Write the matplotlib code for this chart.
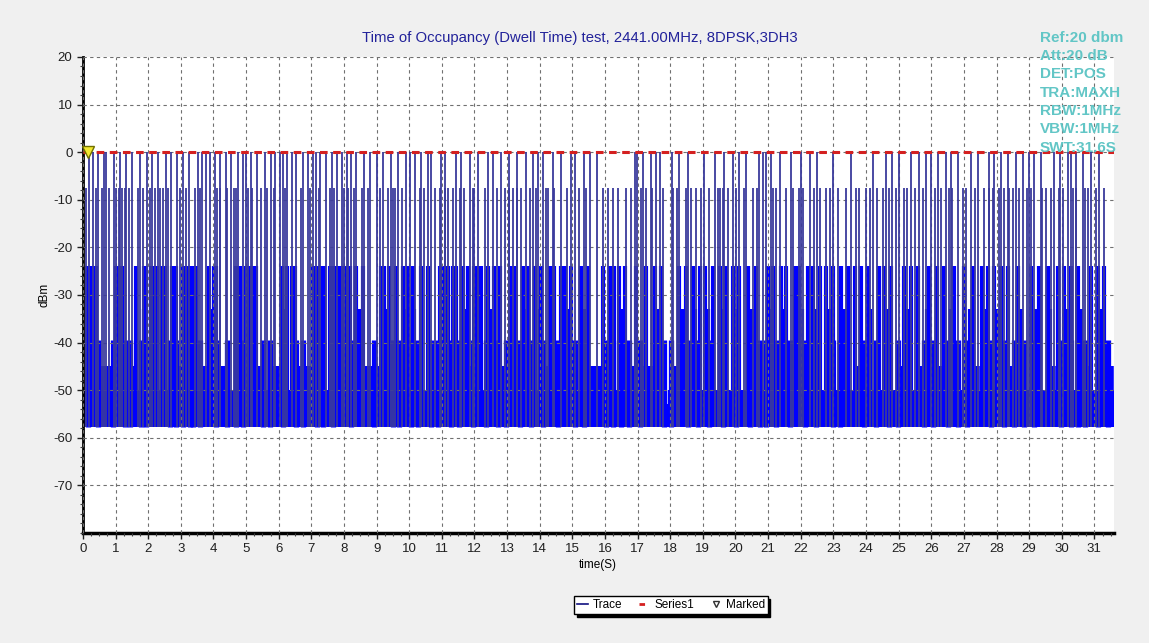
import matplotlib.pyplot as plt
from matplotlib.lines import Line2D
from matplotlib.ticker import MultipleLocator

plt.rcParams['font.family'] = ['Liberation Sans', 'DejaVu Sans']
plt.rcParams['axes.unicode_minus'] = False

# pulses that reach the reference line (about 0 dBm)
top_t = [0.20, 0.31, 0.46, 0.63, 0.72, 0.95, 1.15, 1.33, 1.51, 1.76, 1.96, 2.12, 2.30, 2.54,
         2.71, 2.89, 3.07, 3.25, 3.53, 3.65, 3.78, 3.89, 4.04, 4.20, 4.38, 4.55, 4.75, 4.91,
         5.01, 5.15, 5.32, 5.57, 5.75, 5.90, 6.03, 6.13, 6.26, 6.40, 6.54, 6.75, 6.90, 7.06,
         7.14, 7.28, 7.45, 7.62, 7.79, 7.95, 8.08,
         8.22, 8.37, 8.61, 8.81, 9.01, 9.20, 9.45, 9.65, 9.90, 10.01, 10.18, 10.36, 10.59,
         10.67, 10.98, 11.10, 11.44, 11.60, 11.85, 12.10, 12.41, 12.56, 12.82, 13.05, 13.30,
         13.58, 13.80, 13.95, 14.10, 14.40, 14.66, 14.97, 15.07, 15.37, 15.53, 15.75,
         16.93, 16.98, 17.16, 17.41, 17.55, 17.70, 18.05, 18.28, 18.55, 19.05, 19.36, 19.65,
         19.92, 20.12, 20.33, 20.72, 20.84, 20.94, 21.10, 21.35, 21.70, 22.02, 22.27, 22.50,
         22.99, 23.55,
         24.20, 24.61, 24.81, 25.02, 25.38, 25.63, 25.84, 25.99, 26.20, 26.45, 26.62, 26.81,
         27.22, 27.42, 27.78, 27.93, 28.15, 28.35, 28.60, 28.80, 29.00, 29.16, 29.36, 29.77,
         29.95, 30.18, 30.28, 30.45, 30.65, 30.90, 31.15]

# pulses topping out near -7.5 dBm
mid_t = [0.08, 0.40, 0.59, 0.80, 1.02, 1.10, 1.21, 1.28, 1.40, 1.70, 1.84, 2.05, 2.22, 2.37,
         2.45, 2.62, 2.98, 3.15, 3.43, 3.58, 4.10, 4.19, 4.40, 4.62, 4.70, 5.06, 5.19, 5.45,
         5.65, 5.86, 6.20, 6.68, 6.95, 7.22, 7.57, 7.70,
         7.99, 8.11, 8.32, 8.54, 8.73, 9.10, 9.34, 9.50, 9.57, 9.77, 10.34, 10.45, 10.80, 10.93,
         11.10, 11.18, 11.34, 11.55, 11.69, 11.95, 12.00, 12.31, 12.70, 12.94, 13.07, 13.18,
         13.30, 13.43, 13.69, 13.89, 14.20, 14.25, 14.45, 14.85, 15.20, 15.42,
         15.95, 16.10, 16.24, 16.39, 16.65, 16.80, 17.10, 17.26, 17.45, 17.79, 18.10, 18.20,
         18.49, 18.64, 18.80, 18.95, 19.20, 19.45, 19.53, 19.61, 19.77, 20.02, 20.25, 20.53,
         20.65, 21.15, 21.25, 21.56, 21.76, 21.95, 22.07, 22.40, 22.58, 22.78, 22.90, 23.14,
         23.40, 23.70,
         23.79, 24.00, 24.13, 24.35, 24.51, 24.71, 24.92, 25.17, 25.27, 25.50, 25.75, 26.11,
         26.30, 26.55, 26.65, 26.96, 27.06, 27.35, 27.63, 27.78, 27.90, 28.09, 28.24, 28.39,
         28.50, 28.70, 28.95, 29.06, 29.40, 29.52, 29.67, 29.93, 30.05, 30.35, 30.44, 30.70,
         30.80, 31.05, 31.31]

# wider bursts near -24 dBm
low_t = [0.12, 0.22, 0.33, 0.39, 1.00, 1.10, 1.21, 1.62, 1.86, 1.92, 2.10, 2.17, 2.27, 2.43,
         2.51, 2.74, 2.84, 3.07, 3.19, 3.29, 3.39, 3.48, 3.87, 4.01, 4.09, 4.70, 4.81, 4.99,
         5.11, 5.21, 5.30, 6.11, 6.24, 6.42, 6.49, 7.06, 7.16, 7.28, 7.38, 7.57, 7.67, 7.77, 7.87,
         7.96, 8.06, 8.17, 8.37, 8.57, 9.14, 9.24, 9.39, 9.60, 9.80, 9.95, 10.11, 10.36, 10.57,
         10.93, 11.03, 11.18, 11.34, 11.44, 11.64, 11.80, 12.00, 12.10, 12.20, 12.41, 12.61,
         12.77, 13.12, 13.23, 13.48, 13.64, 13.84, 14.04, 14.30, 14.45, 14.66, 14.76, 14.97,
         15.27, 15.48,
         15.95, 16.14, 16.29, 16.44, 16.60, 16.95, 17.26, 17.52, 17.72, 18.28, 18.49, 18.69,
         18.90, 19.08, 19.31, 19.51, 19.72, 19.92, 20.12, 20.38, 20.64, 20.99, 21.15, 21.40,
         21.56, 21.81, 21.96, 22.22, 22.37, 22.58, 22.78, 22.99, 23.24, 23.45, 23.65,
         23.84, 24.05, 24.40, 24.56, 24.76, 25.17, 25.38, 25.58, 25.94, 26.19, 26.40, 26.71,
         27.01, 27.27, 27.57, 27.73, 27.93, 28.14, 28.34, 28.65, 29.06, 29.31, 29.57, 29.87,
         30.08, 30.28, 30.49, 30.90, 31.10, 31.31]

# bursts near -33 dBm
l33_t = [0.26, 1.05, 1.88, 2.20, 2.80, 3.33, 3.95, 4.75, 5.05, 5.25, 6.18, 6.45, 7.10, 7.33,
         7.72, 8.12, 8.45, 9.30, 9.85, 10.15, 10.98, 11.40, 11.70, 12.15, 12.50, 13.18, 13.55,
         14.00, 14.38, 14.85, 15.40, 16.20, 16.55, 17.65, 18.38, 18.75, 19.15, 19.60, 19.98,
         20.50, 21.05, 21.48, 22.05, 22.45, 22.90, 23.35, 24.12, 24.65, 25.25, 25.88, 26.60,
         27.20, 27.65, 28.05, 28.75, 29.20, 29.65, 30.15, 30.58, 31.20]

# bursts near -40 dBm
l40_t = [0.15, 0.46, 0.92, 1.28, 1.43, 1.79, 1.94, 2.66, 2.86, 3.07, 3.27, 3.37, 3.58, 4.09,
         4.40, 4.70, 4.91, 5.52, 5.73, 6.13, 6.54, 6.75, 7.16, 7.36, 7.67,
         8.22, 8.93, 9.49, 9.70, 10.06, 10.26, 10.67, 10.88, 11.28, 11.54, 11.95, 12.36, 12.72,
         12.97, 13.38, 13.74, 14.10, 14.56, 15.07, 15.37,
         16.03, 16.24, 16.49, 16.75, 17.06, 17.82, 18.03, 18.54, 18.85, 19.20, 19.61, 20.02,
         20.43, 20.74, 20.94, 21.25, 21.66, 22.12, 22.48, 22.99, 23.19,
         23.94, 24.30, 24.71, 24.97, 25.79, 26.04, 26.50, 26.81, 27.11, 27.83, 28.24, 28.55,
         28.85, 29.16, 29.98, 30.28, 30.49, 30.70, 31.10, 31.41]

# bursts near -45 dBm
l45_t = [0.55, 0.70, 0.82, 1.52, 2.97, 3.68, 3.78, 4.20, 4.30, 5.40, 5.85, 5.97, 6.62, 6.88,
         6.97, 8.68, 8.80, 9.03, 10.31, 11.88, 12.87, 13.30, 14.20, 15.58, 15.70, 15.82, 16.85,
         17.15, 17.38, 18.15, 21.73, 23.74, 25.07, 25.68, 26.29, 27.40, 28.44, 29.72, 30.80,
         31.50]

top_level = 0.0
mid_level = -7.5
low_level = -24.0
l33_level = -33.0
l40_level = -39.5
l45_level = -45.0
base_level = -50.0
floor_lo, floor_hi = -57.8, -53.0
sweep_time = 31.6

info = ['Ref:20 dbm', 'Att:20 dB', 'DET:POS', 'TRA:MAXH', 'RBW:1MHz', 'VBW:1MHz', 'SWT:31.6S']

fig = plt.figure(figsize=(11.49, 6.43), dpi=100, facecolor='#f0f0f0')
ax = fig.add_axes([0.0722, 0.1711, 0.8973, 0.7403])
ax.set_facecolor('white')

blue = '#0000ff'
thin = '#3a3a9c'
all_t = top_t + mid_t + low_t + l33_t + l40_t + l45_t

ax.fill_between([0, sweep_time], floor_lo, floor_hi, color=blue, lw=0, zorder=2)
ax.vlines(all_t, floor_lo, base_level, color=blue, lw=4.5, zorder=2)
ax.vlines(l45_t, floor_lo, l45_level, color=blue, lw=4.0, zorder=2)
ax.vlines(l40_t, floor_lo, l40_level, color=blue, lw=3.8, zorder=2)
ax.vlines(l33_t, floor_lo, l33_level, color=blue, lw=3.0, zorder=2)
ax.vlines(low_t, floor_lo, low_level, color=blue, lw=3.0, zorder=2)
ax.vlines(mid_t, floor_lo, mid_level, color=thin, lw=1.3, zorder=3)
ax.vlines(top_t, floor_lo, top_level, color=thin, lw=1.3, zorder=3)

ax.plot([0, sweep_time], [0, 0], color='#d42020', lw=2.2, ls=(0, (2.5, 1.8)), zorder=4)
ax.plot([0.15], [0], marker='v', ms=9, mfc='#f2e830', mec='#707000', zorder=5, clip_on=False)

ax.set_xlim(0, sweep_time)
ax.set_ylim(-80, 20)
ax.xaxis.set_major_locator(MultipleLocator(1))
ax.xaxis.set_minor_locator(MultipleLocator(0.25))
ax.yaxis.set_major_locator(MultipleLocator(10))
ax.yaxis.set_minor_locator(MultipleLocator(2))
ax.set_yticks(range(-70, 21, 10))
ax.tick_params(which='major', direction='out', length=4, width=1, labelsize=9.5, colors='#202020')
ax.tick_params(which='minor', direction='out', length=2.5, width=0.8, colors='#404040')
ax.grid(True, which='major', color='#707070', lw=0.8, ls=(0, (3, 3)), zorder=6)
ax.set_axisbelow(False)

for s in ['top', 'right']:
    ax.spines[s].set_visible(False)
ax.spines['left'].set_linewidth(2)
ax.spines['bottom'].set_linewidth(2.5)

fig.text(0.505, 0.941, 'Time of Occupancy (Dwell Time) test, 2441.00MHz, 8DPSK,3DH3',
         ha='center', va='center', color='#22229a', fontsize=10.7)
for i, line in enumerate(info):
    fig.text(0.905, 0.941 - i * 0.0284, line, ha='left', va='center',
             color='#62c6c6', fontsize=11, fontweight='bold')

fig.text(0.039, 0.541, 'dBm', rotation=90, ha='center', va='center', fontsize=8.5)
fig.text(0.52, 0.121, 'time(S)', ha='center', va='center', fontsize=8.5)

handles = [Line2D([], [], color='#101080', lw=1.2),
           Line2D([], [], color='#d42020', lw=2, ls=(0, (2, 3))),
           Line2D([], [], color='#303030', marker='v', ms=5, mfc='white', ls='none')]
fig.legend(handles, ['Trace', 'Series1', 'Marked'], loc='center', bbox_to_anchor=(0.584, 0.059),
           ncol=3, fontsize=8.5, fancybox=False, edgecolor='black', framealpha=1,
           shadow={'color': 'black', 'alpha': 1}, handlelength=0.9, handletextpad=0.4,
           columnspacing=1.4, borderpad=0.25)

plt.savefig('out.png', dpi=100, facecolor=fig.get_facecolor())
